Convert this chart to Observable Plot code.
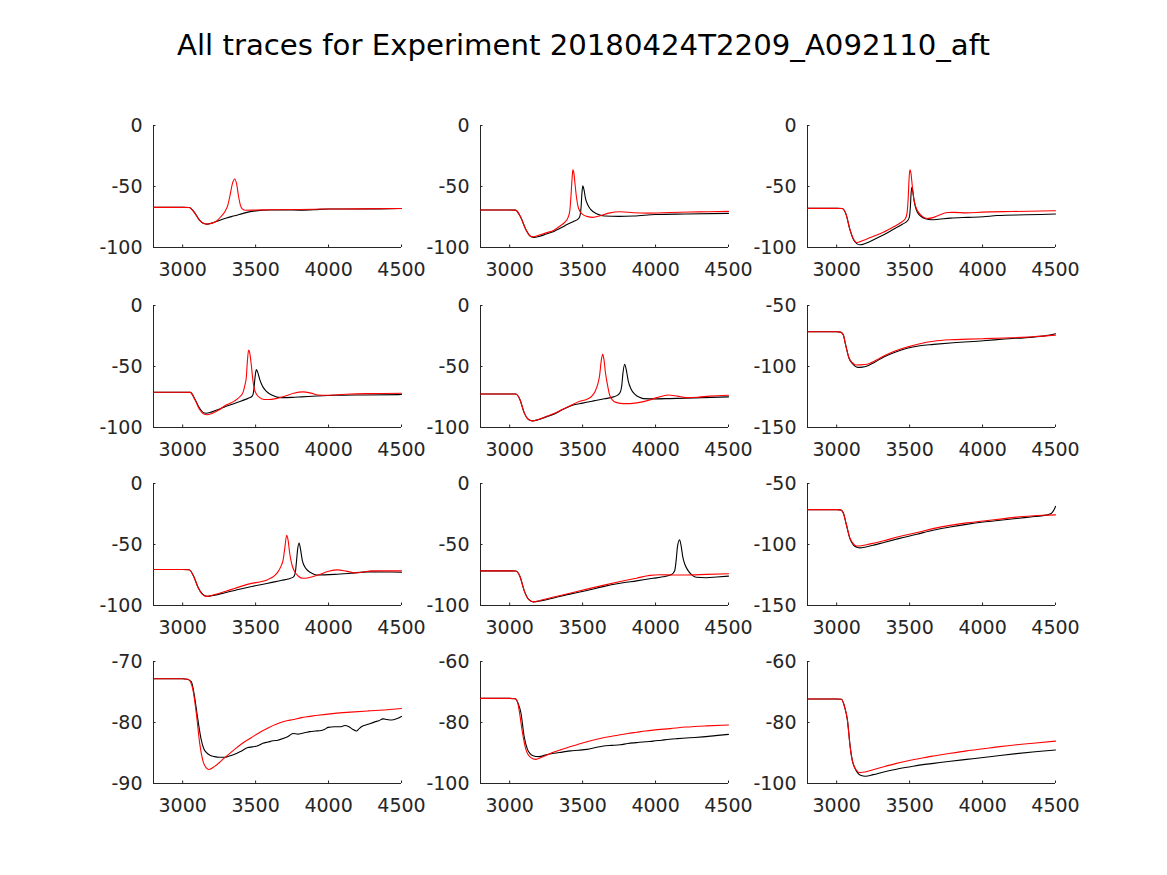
<!DOCTYPE html>
<html><head><meta charset="utf-8">
<script src="https://cdn.jsdelivr.net/npm/d3@7"></script>
<script src="https://cdn.jsdelivr.net/npm/@observablehq/plot@0.6"></script>
<style>
body{margin:0;background:#fff}
#wrap{position:relative;width:1167px;height:875px;font-family:"DejaVu Sans";background:#fff;overflow:hidden}
#title{position:absolute;left:0;width:1167px;top:28px;line-height:34px;text-align:center;font-size:29.2px;color:#000}
.pan{position:absolute}
</style></head>
<body><div id="wrap"><div id="title">All traces for Experiment 20180424T2209_A092110_aft</div></div>
<script>
const title = "All traces for Experiment 20180424T2209_A092110_aft";
const xDomain = [2800, 4500];
const xTicks = [3000, 3500, 4000, 4500];
const yDomains = [[-100,0],[-100,0],[-100,0],[-100,0],[-100,0],[-150,-50],[-100,0],[-100,0],[-150,-50],[-90,-70],[-100,-60],[-100,-60]];
const yTicks = [[-100,-50,0],[-100,-50,0],[-100,-50,0],[-100,-50,0],[-100,-50,0],[-150,-100,-50],[-100,-50,0],[-100,-50,0],[-150,-100,-50],[-90,-80,-70],[-100,-80,-60],[-100,-80,-60]];

const p1Black = [[2800,-67.1],[3000,-67.1],[3045,-67.2],[3080,-71.2],[3115,-77.5],[3145,-80.3],[3170,-80.8],[3200,-80],[3250,-77.8],[3300,-75.8],[3356,-74],[3420,-71.8],[3500,-70],[3600,-69.3],[3700,-69.2],[3800,-69.4],[3900,-69],[4000,-68.5],[4200,-68.4],[4350,-68.3],[4500,-68]];
const p1Red = [[2800,-67.1],[3000,-67.1],[3045,-67.2],[3080,-71.2],[3115,-77.5],[3145,-80.3],[3168,-80.8],[3200,-80.2],[3230,-78.5],[3260,-75],[3290,-70.5],[3310,-65],[3325,-57],[3340,-48],[3356,-43.8],[3370,-48],[3383,-58],[3395,-65],[3410,-68.5],[3430,-69.5],[3500,-69.3],[3600,-69],[3800,-68.8],[4000,-68.5],[4200,-68.3],[4500,-68]];
const p2Black = [[2800,-69.3],[3000,-69.3],[3040,-69.4],[3075,-75],[3110,-85],[3140,-90.5],[3165,-91.8],[3200,-91],[3250,-89],[3303,-86.8],[3350,-84],[3400,-80.8],[3440,-78.5],[3470,-76.5],[3482,-74],[3490,-66],[3495,-56],[3501,-49.5],[3510,-53],[3520,-60],[3535,-65],[3555,-68.8],[3600,-72.6],[3650,-74.2],[3750,-74.5],[3850,-74.2],[4000,-73],[4200,-72.5],[4500,-72]];
const p2Red = [[2800,-69.3],[3000,-69.3],[3040,-69.4],[3075,-75],[3110,-85],[3140,-90.5],[3162,-91.2],[3200,-90],[3250,-88],[3303,-85.8],[3350,-82],[3380,-79],[3400,-75.5],[3412,-70],[3420,-58],[3428,-43],[3433,-36.4],[3440,-39],[3448,-48],[3457,-58],[3468,-66],[3480,-70],[3500,-72.8],[3530,-74.5],[3570,-75.3],[3620,-74],[3680,-71.8],[3757,-70.7],[3850,-71.5],[3950,-71.8],[4100,-71.3],[4300,-70.8],[4500,-70.4]];
const p3Black = [[2800,-67.9],[3000,-67.9],[3038,-68],[3065,-73],[3090,-85],[3115,-93.5],[3140,-97],[3160,-97.8],[3200,-96.5],[3260,-93.2],[3323,-89.5],[3390,-85],[3450,-81],[3490,-77.5],[3500,-74],[3506,-65],[3510,-56],[3515,-50.7],[3522,-54],[3530,-61],[3540,-67],[3555,-71.5],[3575,-74.2],[3610,-76.5],[3650,-77.3],[3700,-76.8],[3780,-75.9],[3900,-75.3],[4005,-74.8],[4100,-73.8],[4300,-73.2],[4500,-72.6]];
const p3Red = [[2800,-67.9],[3000,-67.9],[3038,-68],[3065,-73],[3090,-85],[3115,-93],[3136,-95.9],[3180,-94.3],[3240,-91.3],[3323,-87.3],[3390,-83],[3440,-79.5],[3470,-76.5],[3482,-72],[3490,-60],[3497,-42],[3502,-36.4],[3509,-39],[3517,-48],[3527,-58.9],[3542,-66.5],[3561,-71.2],[3590,-74.8],[3620,-76.2],[3660,-75.5],[3700,-73.5],[3760,-71.3],[3800,-71.2],[3890,-71.6],[4000,-71],[4200,-70.5],[4500,-69.9]];
const p4Black = [[2800,-71.1],[3000,-71.1],[3052,-71.2],[3085,-77],[3115,-84],[3140,-87.6],[3161,-88.3],[3200,-87.2],[3250,-85],[3287,-83.1],[3350,-80.5],[3402,-78.2],[3450,-76],[3478,-74],[3488,-69],[3495,-60],[3505,-52.6],[3515,-55],[3528,-60.5],[3545,-65.5],[3562,-68.7],[3585,-71.5],[3610,-73.3],[3676,-75.5],[3750,-75.3],[3814,-74.9],[3920,-74.2],[4042,-73.6],[4250,-73.3],[4500,-73]];
const p4Red = [[2800,-71.1],[3000,-71.1],[3052,-71.2],[3085,-77.5],[3115,-85],[3145,-89],[3168,-89.6],[3200,-88.5],[3250,-85.5],[3287,-82.3],[3330,-80],[3356,-78.2],[3390,-75],[3413,-71.4],[3425,-66],[3436,-59],[3444,-45],[3452,-36.5],[3460,-39],[3470,-48.2],[3480,-60],[3489,-67.3],[3505,-72.5],[3528,-75.5],[3560,-77],[3590,-77.1],[3640,-76.3],[3699,-74.4],[3760,-72],[3825,-70.8],[3880,-71.8],[3928,-73.3],[3990,-73.6],[4042,-73.3],[4150,-72.5],[4300,-72.2],[4500,-71.9]];
const p5Black = [[2800,-72.5],[3000,-72.5],[3042,-72.6],[3070,-77],[3100,-88],[3130,-93.5],[3156,-94.6],[3200,-93.5],[3250,-91.3],[3303,-89.1],[3360,-85.5],[3417,-82.3],[3500,-80],[3575,-78.2],[3650,-76.5],[3711,-74.9],[3740,-73.5],[3757,-71.4],[3768,-66],[3776,-56],[3788,-48.2],[3798,-52],[3813,-61.9],[3830,-68],[3859,-72.8],[3890,-75.3],[3915,-76.3],[4000,-76.5],[4097,-76.3],[4200,-76],[4323,-75.5],[4500,-74.9]];
const p5Red = [[2800,-72.5],[3000,-72.5],[3042,-72.6],[3070,-77],[3100,-88],[3130,-93.5],[3156,-94.6],[3200,-93.3],[3250,-91],[3303,-88.6],[3360,-85.3],[3417,-82],[3480,-78.5],[3530,-76.8],[3565,-74],[3587,-70],[3605,-64],[3616,-57.8],[3628,-45],[3637,-40.1],[3646,-44],[3655,-53.7],[3668,-63.5],[3684,-72.8],[3705,-77.5],[3734,-79.6],[3780,-80.4],[3825,-80.4],[3880,-79.6],[3938,-78.2],[4010,-75.5],[4085,-73.3],[4150,-74.3],[4210,-75.5],[4290,-75.2],[4369,-74.3],[4500,-73.6]];
const p6Black = [[2800,-71.5],[3000,-71.5],[3027,-71.8],[3045,-74],[3061,-82],[3084,-93],[3107,-97.5],[3125,-99.7],[3145,-100.7],[3175,-100.5],[3209,-99.6],[3260,-96.5],[3323,-92.2],[3400,-88.3],[3482,-85.1],[3570,-83],[3664,-81.9],[3800,-80.5],[4005,-78.9],[4150,-77.5],[4346,-75.9],[4450,-74.5],[4500,-73.2]];
const p6Red = [[2800,-71.5],[3000,-71.5],[3027,-71.8],[3045,-74],[3061,-82],[3084,-92.8],[3107,-96.9],[3130,-98.8],[3160,-98.7],[3209,-98.2],[3260,-95.5],[3323,-91.4],[3400,-87.3],[3482,-84.1],[3570,-81.3],[3664,-79.3],[3777,-78.1],[3900,-77.6],[4005,-77.2],[4150,-76.6],[4346,-75.6],[4500,-74.3]];
const p7Black = [[2800,-70.5],[3000,-70.5],[3045,-70.7],[3075,-76],[3105,-85],[3135,-90.5],[3168,-92.5],[3220,-91.5],[3290,-89.5],[3356,-87.7],[3450,-85],[3585,-81.8],[3680,-79.3],[3722,-78.3],[3760,-76.5],[3772,-73],[3780,-64],[3788,-54],[3798,-48.8],[3808,-54],[3820,-63],[3838,-68.5],[3859,-71.5],[3890,-73.8],[3917,-75],[4042,-74.5],[4150,-73.6],[4271,-72.4],[4400,-72.5],[4500,-72.7]];
const p7Red = [[2800,-70.5],[3000,-70.5],[3045,-70.7],[3075,-76],[3105,-85],[3135,-90.8],[3165,-92.5],[3220,-91],[3290,-88.5],[3356,-86],[3450,-82.5],[3585,-78.6],[3630,-75.5],[3653,-72.4],[3675,-67.5],[3688,-63],[3700,-53],[3713,-42.4],[3722,-46],[3734,-57.6],[3750,-67],[3768,-72.4],[3795,-76.2],[3825,-77.7],[3870,-77],[3928,-75],[4000,-72],[4061,-70.8],[4120,-71.8],[4180,-73.2],[4240,-72.5],[4294,-71.6],[4400,-71.6],[4500,-71.6]];
const p8Black = [[2800,-71.6],[3000,-71.6],[3043,-71.7],[3070,-76],[3100,-88],[3130,-95],[3163,-97],[3220,-96],[3303,-93.8],[3420,-90.5],[3530,-87.7],[3640,-84.5],[3757,-81.8],[3870,-79.8],[3983,-77.7],[4050,-76.5],[4110,-74.6],[4131,-71.5],[4142,-62],[4150,-52],[4165,-46.1],[4175,-51],[4187,-60.3],[4200,-66],[4221,-71],[4245,-74.5],[4278,-76.9],[4346,-77.2],[4420,-76.6],[4500,-75.9]];
const p8Red = [[2800,-71.6],[3000,-71.6],[3043,-71.7],[3070,-76],[3100,-88],[3130,-95],[3163,-97],[3220,-95.5],[3303,-93],[3420,-89.7],[3530,-86.6],[3640,-83.5],[3757,-80.4],[3870,-77.6],[3961,-75.3],[4029,-74.8],[4120,-75],[4210,-75],[4350,-74.5],[4500,-74]];
const p9Black = [[2800,-71.4],[3000,-71.4],[3027,-71.6],[3045,-74],[3065,-83],[3090,-95],[3115,-100.5],[3140,-102.3],[3159,-102.8],[3200,-102],[3260,-100.3],[3323,-98.3],[3430,-95],[3550,-91.6],[3660,-88.3],[3777,-85.7],[3890,-83.5],[4005,-81.6],[4120,-80.1],[4232,-78.7],[4330,-77.4],[4414,-76.3],[4450,-75.5],[4475,-74],[4490,-71.5],[4500,-68.8]];
const p9Red = [[2800,-71.4],[3000,-71.4],[3027,-71.6],[3045,-74],[3065,-83],[3090,-94.5],[3115,-99.5],[3136,-101.2],[3170,-101],[3230,-99.5],[3323,-96.9],[3430,-93.5],[3550,-90.2],[3660,-87],[3777,-84.3],[3890,-82.3],[4005,-80.8],[4120,-79.2],[4232,-77.6],[4330,-76.6],[4414,-76],[4500,-75.7]];
const p10Black = [[2800,-72.83],[3000,-72.83],[3030,-72.9],[3059,-73.3],[3081,-75.7],[3104,-79.5],[3127,-82.8],[3145,-84.3],[3162,-84.9],[3190,-85.4],[3219,-85.6],[3250,-85.7],[3287,-85.7],[3320,-85.5],[3356,-85.2],[3400,-84.7],[3447,-84.1],[3480,-84],[3516,-83.8],[3550,-83.4],[3585,-83.2],[3620,-83],[3653,-82.9],[3690,-82.6],[3722,-82.3],[3756,-81.8],[3790,-81.9],[3814,-81.8],[3850,-81.6],[3871,-81.5],[3910,-81.4],[3951,-81.3],[3975,-81.1],[3997,-80.8],[4042,-80.7],[4080,-80.7],[4111,-80.5],[4140,-80.7],[4165,-81.1],[4191,-81.4],[4210,-81],[4225,-80.7],[4271,-80.3],[4317,-79.9],[4345,-79.7],[4374,-79.4],[4400,-79.5],[4431,-79.6],[4466,-79.4],[4500,-79]];
const p10Red = [[2800,-72.83],[3000,-72.83],[3036,-72.9],[3055,-73.4],[3070,-74.6],[3093,-78.4],[3116,-83.3],[3139,-86.3],[3160,-87.4],[3180,-87.7],[3219,-87.2],[3250,-86.6],[3287,-85.8],[3356,-84.4],[3410,-83.4],[3470,-82.5],[3530,-81.6],[3585,-80.9],[3640,-80.3],[3699,-79.8],[3760,-79.5],[3814,-79.2],[3870,-79],[3928,-78.8],[4042,-78.5],[4150,-78.3],[4271,-78.1],[4400,-77.9],[4500,-77.7]];
const p11Black = [[2800,-72.1],[3000,-72.1],[3038,-72.2],[3060,-74],[3077,-76.8],[3099,-84.5],[3122,-88.8],[3140,-90.2],[3156,-90.8],[3201,-91.2],[3250,-90.6],[3303,-90.1],[3360,-89.7],[3417,-89.3],[3470,-89.1],[3530,-88.8],[3590,-88.2],[3643,-87.7],[3700,-87.5],[3757,-87.3],[3810,-86.9],[3870,-86.6],[3930,-86.3],[3983,-86.1],[4040,-85.8],[4097,-85.5],[4150,-85.3],[4210,-85.1],[4270,-84.9],[4323,-84.7],[4410,-84.3],[4500,-83.9]];
const p11Red = [[2800,-72.1],[3000,-72.1],[3038,-72.2],[3055,-73.5],[3065,-76],[3088,-83.4],[3111,-88.8],[3145,-91.5],[3179,-92.1],[3220,-91.4],[3303,-89.7],[3360,-88.8],[3417,-87.9],[3470,-87.1],[3530,-86.3],[3590,-85.6],[3643,-85],[3700,-84.5],[3757,-84],[3810,-83.6],[3870,-83.2],[3930,-82.8],[3983,-82.5],[4100,-82],[4210,-81.5],[4350,-81.1],[4500,-80.8]];
const p12Black = [[2800,-72.3],[3000,-72.3],[3032,-72.4],[3055,-75],[3073,-79],[3095,-88.8],[3110,-93],[3123,-94.8],[3145,-96.6],[3164,-97.3],[3198,-97.6],[3250,-97.1],[3323,-96.2],[3410,-95.3],[3505,-94.5],[3580,-93.9],[3664,-93.4],[3780,-92.7],[3891,-92.1],[4005,-91.5],[4120,-90.8],[4232,-90.2],[4360,-89.6],[4500,-89]];
const p12Red = [[2800,-72.3],[3000,-72.3],[3032,-72.4],[3055,-75],[3073,-79],[3091,-87.5],[3105,-92],[3118,-94.2],[3135,-95.6],[3152,-96.4],[3180,-96.3],[3250,-95.5],[3323,-94.5],[3410,-93.4],[3505,-92.4],[3580,-91.7],[3664,-91],[3780,-90.1],[3891,-89.3],[4005,-88.6],[4118,-87.9],[4232,-87.3],[4346,-86.8],[4500,-86.1]];

const blacks = [p1Black,p2Black,p3Black,p4Black,p5Black,p6Black,p7Black,p8Black,p9Black,p10Black,p11Black,p12Black];
const reds = [p1Red,p2Red,p3Red,p4Red,p5Red,p6Red,p7Red,p8Red,p9Red,p10Red,p11Red,p12Red];

// layout
const colLeft = [153, 480, 807];
const rowTop = [125, 304.5, 483, 661];
const PW = 248, PH = 122;
const ML = 80, MR = 35, MT = 14, MB = 44;
const AX = "#262626";

const wrap = document.getElementById("wrap");
for (let i = 0; i < 12; i++) {
  const r = Math.floor(i / 3), c = i % 3;
  const [y0, y1] = yDomains[i];
  const tx = (xDomain[1] - xDomain[0]) * 2.5 / PW;
  const ty = (y1 - y0) * 2.5 / PH;
  const chart = Plot.plot({
    width: ML + PW + MR, height: MT + PH + MB,
    marginLeft: ML, marginRight: MR, marginTop: MT, marginBottom: MB,
    x: {domain: xDomain},
    y: {domain: yDomains[i]},
    style: {fontFamily: "DejaVu Sans", fontSize: "19px", color: AX, background: "transparent", overflow: "visible"},
    marks: [
      Plot.axisX({ticks: xTicks, tickSize: 0, tickPadding: 15, tickFormat: d => String(d), fill: AX}),
      Plot.axisY({ticks: yTicks[i], tickSize: 0, tickPadding: 11, tickFormat: d => String(d), fill: AX}),
      Plot.ruleX(xTicks, {x: d => d, y1: y0, y2: y0 + ty, stroke: AX}),
      Plot.ruleY(yTicks[i], {y: d => d, x1: xDomain[0], x2: xDomain[0] + tx, stroke: AX}),
      Plot.ruleY([y0], {stroke: AX}),
      Plot.ruleX([xDomain[0]], {stroke: AX}),
      Plot.line(blacks[i], {x: d => d[0], y: d => d[1], stroke: "#000", strokeWidth: 1.1, curve: "monotone-x"}),
      Plot.line(reds[i], {x: d => d[0], y: d => d[1], stroke: "#ff0000", strokeWidth: 1.1, curve: "monotone-x"})
    ]
  });
  const d = document.createElement("div");
  d.className = "pan";
  d.style.left = (colLeft[c] - ML) + "px";
  d.style.top = (rowTop[r] - MT) + "px";
  d.appendChild(chart);
  wrap.appendChild(d);
}
</script>
</body></html>
